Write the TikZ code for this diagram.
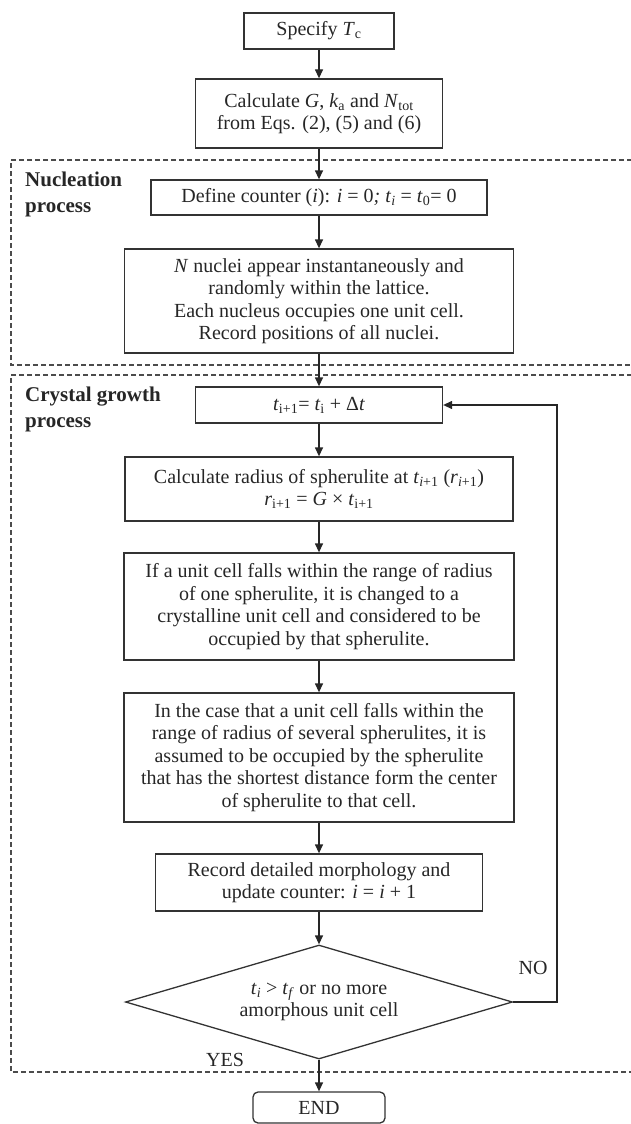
\documentclass[tikz,border=0pt]{standalone}
\usepackage{fontspec}
\setmainfont{Liberation Serif}
\usetikzlibrary{arrows.meta}
\usetikzlibrary{shapes.geometric}

\begin{document}
\begin{tikzpicture}[x=1pt,y=-1pt,
        every node/.style={font=\fontsize{20}{22.5}\selectfont, text=black!85},
        box/.style={draw=black!80, line width=1.3pt, inner sep=0pt, align=center},
        flow/.style={draw=black!85, line width=1.3pt, -{Triangle[length=9pt,width=8pt]}},
        zone/.style={draw=black!70, line width=1.1pt, dash pattern=on 5pt off 3pt},
        tag/.style={font=\fontsize{21}{26}\selectfont\bfseries, align=left, anchor=west, inner sep=0pt}]
        \useasboundingbox (0,0) rectangle (630,1124);

        \coordinate (back) at (557,0);

        \draw[zone] (640,160) -- (11,160) -- (11,365) -- (640,365); % Nucleation
        \draw[zone] (640,375) -- (11,375) -- (11,1072) -- (640,1072); % Growth

        \node[box, minimum width=150pt, minimum height=36pt] (spec) at (319,31)
            {Specify \textit{T}\textsubscript{c}};
        \node[box, minimum width=247pt, minimum height=69pt] (calc) at (319,113.5)
            {Calculate \textit{G}, \textit{k}\textsubscript{a} and \textit{N}\textsubscript{tot}\\from Eqs. (2), (5) and (6)};
        \node[box, minimum width=336pt, minimum height=35pt] (define) at (319,197.5)
            {Define counter (\textit{i}): \textit{i} = 0\textit{;} \textit{t}\textsubscript{\textit{i}} = \textit{t}\textsubscript{0}= 0};
        \node[box, minimum width=389pt, minimum height=104pt] (nuclei) at (319,301)
            {\textit{N} nuclei appear instantaneously and\\randomly within the lattice.\\Each nucleus occupies one unit cell.\\Record positions of all nuclei.};
        \node[box, minimum width=247pt, minimum height=36pt] (step) at (319,405)
            {\textit{t}\textsubscript{i+1}= \textit{t}\textsubscript{i} + Δ\textit{t}};
        \node[box, minimum width=388pt, minimum height=64pt] (radius) at (319,489)
            {Calculate radius of spherulite at \textit{t}\textsubscript{\textit{i}+1} (\textit{r}\textsubscript{\textit{i}+1})\\\textit{r}\textsubscript{i+1} = \textit{G} × \textit{t}\textsubscript{i+1}};
        \node[box, minimum width=390pt, minimum height=107pt] (single) at (319,606.5)
            {If a unit cell falls within the range of radius\\of one spherulite, it is changed to a\\crystalline unit cell and considered to be\\occupied by that spherulite.};
        \node[box, minimum width=390pt, minimum height=129pt] (several) at (319,757.5)
            {In the case that a unit cell falls within the\\range of radius of several spherulites, it is\\assumed to be occupied by the spherulite\\that has the shortest distance form the center\\of spherulite to that cell.};
        \node[box, minimum width=327pt, minimum height=57pt] (record) at (319,882.5)
            {Record detailed morphology and\\update counter: \textit{i} = \textit{i} + 1};
        \node[box, diamond, shape aspect=3.4, minimum width=387pt, minimum height=114pt] (check) at (319,1002)
            {\textit{t}\textsubscript{\textit{i}} > \textit{t}\textsubscript{\textit{f}} or no more\\amorphous unit cell};
        \node[box, rounded corners=5pt, minimum width=132pt, minimum height=31pt] (finish) at (319,1107.5)
            {END};

        \draw[flow] (spec) -- (calc);
        \draw[flow] (calc) -- (define);
        \draw[flow] (define) -- (nuclei);
        \draw[flow] (nuclei) -- (step);
        \draw[flow] (step) -- (radius);
        \draw[flow] (radius) -- (single);
        \draw[flow] (single) -- (several);
        \draw[flow] (several) -- (record);
        \draw[flow] (record) -- (check);
        \draw[flow] (check) -- (finish);
        \draw[flow] (check.east) -- (check.east -| back) |- (step.east); % loop back

        \node[tag] (nuc) at (25,194) {Nucleation\\process};
        \node[tag] (grow) at (25,409) {Crystal growth\\process};
        \node (no) at (533,968) {NO};
        \node (yes) at (225,1060) {YES};

\end{tikzpicture}
\end{document}
